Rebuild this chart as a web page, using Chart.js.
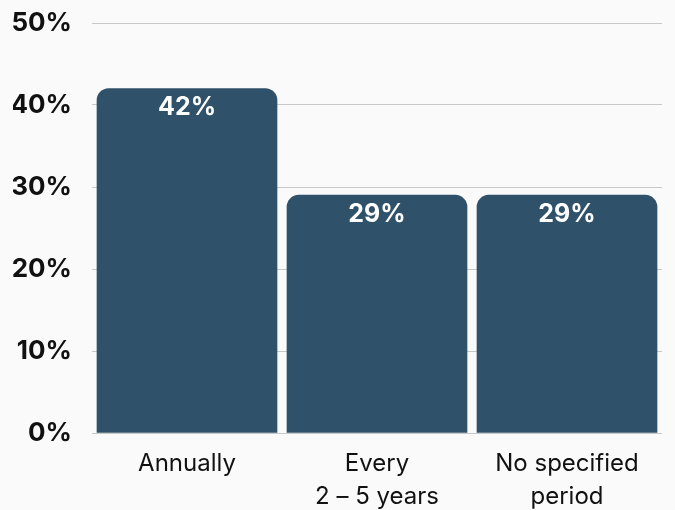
<!DOCTYPE html>
<html>
<head>
<meta charset="utf-8">
<script src="https://cdn.jsdelivr.net/npm/chart.js@4"></script>
<style>
  html, body { margin: 0; padding: 0; background: #fafafa; }
  #wrap { width: 675px; height: 510px; }
</style>
</head>
<body>
<div id="wrap"><canvas id="chart"></canvas></div>
<script>
const categories = [["Annually"], ["Every", "2 – 5 years"], ["No specified", "period"]];
const shares = [42, 29, 29];
const yTicks = [0, 10, 20, 30, 40, 50];

const barColor = "#2f526a";

// white value labels just under the top of each bar
const valueLabels = {
    id: "valueLabels",
    afterDatasetsDraw(chart) {
        const ctx = chart.ctx;
        const meta = chart.getDatasetMeta(0);
        ctx.save();
        ctx.fillStyle = "#ffffff";
        ctx.font = "bold 25px Inter";
        ctx.textAlign = "center";
        ctx.textBaseline = "middle";
        meta.data.forEach((bar, i) => {
            ctx.fillText(shares[i] + "%", bar.x, bar.y + 19);
        });
        ctx.restore();
    }
};

new Chart(document.getElementById("chart").getContext("2d"), {
    type: "bar",
    data: {
        labels: categories,
        datasets: [{
            data: shares,
            backgroundColor: barColor,
            borderRadius: { topLeft: 12, topRight: 12 },
            borderSkipped: "start",
            barThickness: 180
        }]
    },
    options: {
        responsive: true,
        maintainAspectRatio: false,
        animation: false,
        layout: { padding: { top: 0, right: 13, left: 13, bottom: 0 } },
        plugins: {
            legend: { display: false },
            tooltip: { enabled: false }
        },
        scales: {
            x: {
                grid: { display: false },
                border: { display: false },
                afterFit(axis) { axis.height = 77; },
                ticks: {
                    color: "#111111",
                    font: { family: "Inter", size: 24, lineHeight: 1.35 },
                    padding: 7,
                    maxRotation: 0
                }
            },
            y: {
                min: 0,
                max: 50,
                afterBuildTicks(axis) {
                    axis.ticks = yTicks.map(v => ({ value: v }));
                },
                afterFit(axis) {
                    axis.width = 79;
                    axis.paddingTop = 23;
                },
                grid: { color: "#c8c8c8", lineWidth: 1, drawTicks: false },
                border: { display: false },
                ticks: {
                    color: "#111111",
                    font: { family: "Inter", size: 26, weight: "bold" },
                    padding: 20,
                    callback: v => v + "%"
                }
            }
        }
    },
    plugins: [valueLabels]
});
</script>
</body>
</html>
